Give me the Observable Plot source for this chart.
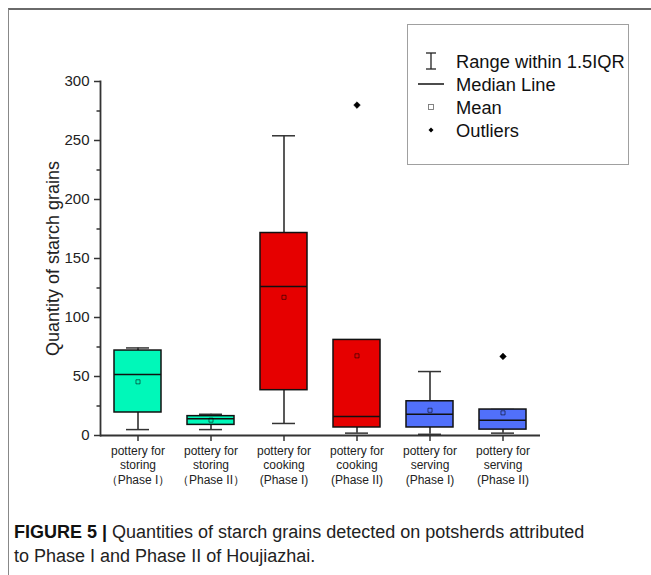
<!DOCTYPE html>
<html>
<head>
<meta charset="utf-8">
<script src="https://cdn.jsdelivr.net/npm/d3@7"></script>
<script src="https://cdn.jsdelivr.net/npm/@observablehq/plot@0.6"></script>
<style>
  html, body { margin: 0; padding: 0; background: #fff; }
  body { width: 651px; height: 575px; position: relative; overflow: hidden; font-family: "Liberation Sans", Arial, sans-serif; }
  #frame { position: absolute; left: 8px; top: 8px; width: 700px; height: 600px; border-top: 2px solid #6a6a6a; border-left: 1px solid #888; }
  #chart { position: absolute; left: 0; top: 0; }
  #legend { position: absolute; left: 407px; top: 24px; width: 220px; height: 139px; border: 1px solid #a0a0a0; background: #fff; }
  #caption { position: absolute; left: 14px; top: 520px; font-family: "Liberation Sans Narrow", "Liberation Sans", Arial, sans-serif; font-size: 18px; line-height: 24px; color: #222; }
  #caption b { color: #111; }
  g[aria-label="y-axis label"] text { font-size: 18px; }
</style>
</head>
<body>
<div id="frame"></div>
<div id="chart"></div>
<div id="legend"></div>
<div id="caption"><b>FIGURE 5 |</b> Quantities of starch grains detected on potsherds attributed<br>to Phase I and Phase II of Houjiazhai.</div>
<script>
// ---- data ----
const categories = ["storing-I", "storing-II", "cooking-I", "cooking-II", "serving-I", "serving-II"];
const tickLabels = [
  "pottery for\nstoring\n（Phase I）",
  "pottery for\nstoring\n（Phase II）",
  "pottery for\ncooking\n(Phase I)",
  "pottery for\ncooking\n(Phase II)",
  "pottery for\nserving\n(Phase I)",
  "pottery for\nserving\n(Phase II)"
];
const q1          = [19.5, 9.0, 38.4, 6.8, 6.8, 5.0];
const median      = [51.6, 14.1, 126.2, 16.1, 18.0, 13.0];
const q3          = [72.0, 16.4, 171.6, 81.0, 29.0, 22.0];
const whiskerLow  = [5.0, 5.0, 10.2, 2.0, 1.0, 2.0];
const whiskerHigh = [74.2, 18.0, 254.0, 81.0, 54.2, 22.0];
const mean        = [45.5, 13.0, 117.1, 67.5, 21.4, 19.2];
const outlierCategory = ["cooking-II", "serving-II"];
const outlierValue    = [280, 67];
const groupColors = ["#00F8B9", "#00F8B9", "#E60000", "#E60000", "#5170FA", "#5170FA"];
const yTicks = [0, 50, 100, 150, 200, 250, 300];
const yMinorTicks = [25, 75, 125, 175, 225, 275];
const legendItems = ["Range within 1.5IQR", "Median Line", "Mean", "Outliers"];

// ---- tables built from the arrays ----
const boxes = categories.map((c, i) => ({
  cat: c, q1: q1[i], median: median[i], q3: q3[i],
  lo: whiskerLow[i], hi: whiskerHigh[i], mean: mean[i], color: groupColors[i]
}));
const outliers = outlierCategory.map((c, i) => ({cat: c, value: outlierValue[i]}));
const labelOf = new Map(categories.map((c, i) => [c, tickLabels[i]]));

const chart = Plot.plot({
  width: 651,
  height: 500,
  marginLeft: 100,
  marginRight: 111,
  marginTop: 81,
  marginBottom: 65,
  style: { fontFamily: "Liberation Sans, Arial, sans-serif", color: "#222", background: "transparent" },
  x: { type: "band", domain: categories, paddingInner: 0.36, paddingOuter: 0.18, label: null },
  y: { domain: [0, 300], label: null },
  marks: [
    // whiskers
    Plot.ruleX(boxes, { x: "cat", y1: "lo", y2: "q1", stroke: "#222", strokeWidth: 1.5 }),
    Plot.ruleX(boxes, { x: "cat", y1: "q3", y2: "hi", stroke: "#222", strokeWidth: 1.5 }),
    Plot.tickY(boxes, { x: "cat", y: "lo", stroke: "#333", strokeWidth: 1.5, inset: 12 }),
    Plot.tickY(boxes, { x: "cat", y: "hi", stroke: "#333", strokeWidth: 1.5, inset: 12 }),
    // boxes
    Plot.barY(boxes, { x: "cat", y1: "q1", y2: "q3", fill: "color", stroke: "#111", strokeWidth: 1.5 }),
    // median
    Plot.tickY(boxes, { x: "cat", y: "median", stroke: "#111", strokeWidth: 1.5 }),
    // mean
    Plot.dot(boxes, { x: "cat", y: "mean", symbol: "square", r: 2.3, fill: "none", stroke: "#000", strokeOpacity: 0.6, strokeWidth: 0.9 }),
    // outliers
    Plot.dot(outliers, { x: "cat", y: "value", symbol: "diamond2", r: 3, fill: "#000", stroke: "#000", strokeWidth: 0.5 }),
    // axes
    Plot.ruleY([0], { stroke: "#333", strokeWidth: 1.8 }),
    Plot.frame({ anchor: "left", stroke: "#333", strokeWidth: 1.8 }),
    Plot.axisY(yTicks, { tickSize: 6, tickPadding: 5, fontSize: 15, stroke: "#333", strokeWidth: 1.5,
      label: "Quantity of starch grains", labelAnchor: "center", labelOffset: 54, labelArrow: "none" }),
    Plot.axisY(yMinorTicks, { tickSize: 3.5, tickFormat: () => "", stroke: "#333", strokeWidth: 1.5, label: null }),
    Plot.axisX({ tickSize: 6, tickPadding: 3, fontSize: 12, lineHeight: 1.2, stroke: "#333", strokeWidth: 1.5,
      tickFormat: (d) => labelOf.get(d), label: null })
  ]
});
document.getElementById("chart").appendChild(chart);

// ---- legend ----
const lsvg = d3.select("#legend").append("svg").attr("width", 220).attr("height", 139);
const rowY = (i) => 36 + i * 23;
legendItems.forEach((t, i) => {
  lsvg.append("text").attr("x", 48).attr("y", rowY(i)).attr("dy", "0.36em")
    .attr("font-family", "Liberation Sans, Arial, sans-serif").attr("font-size", 18.3).attr("fill", "#111").text(t);
});
const sx = 23;
// range symbol
const g0 = lsvg.append("g").attr("stroke", "#222").attr("stroke-width", 1.3);
g0.append("line").attr("x1", sx).attr("x2", sx).attr("y1", rowY(0) - 8).attr("y2", rowY(0) + 8);
g0.append("line").attr("x1", sx - 5).attr("x2", sx + 5).attr("y1", rowY(0) - 8).attr("y2", rowY(0) - 8);
g0.append("line").attr("x1", sx - 5).attr("x2", sx + 5).attr("y1", rowY(0) + 8).attr("y2", rowY(0) + 8);
// median line
lsvg.append("line").attr("x1", sx - 13).attr("x2", sx + 13).attr("y1", rowY(1)).attr("y2", rowY(1)).attr("stroke", "#111").attr("stroke-width", 1.5);
// mean
lsvg.append("rect").attr("x", sx - 2.5).attr("y", rowY(2) - 2.5).attr("width", 5).attr("height", 5).attr("fill", "none").attr("stroke", "#777").attr("stroke-width", 0.9);
// outliers
lsvg.append("path").attr("d", d3.symbol(d3.symbolSquare2, 16)()).attr("transform", `translate(${sx},${rowY(3)}) rotate(45)`).attr("fill", "#000");
</script>
</body>
</html>
